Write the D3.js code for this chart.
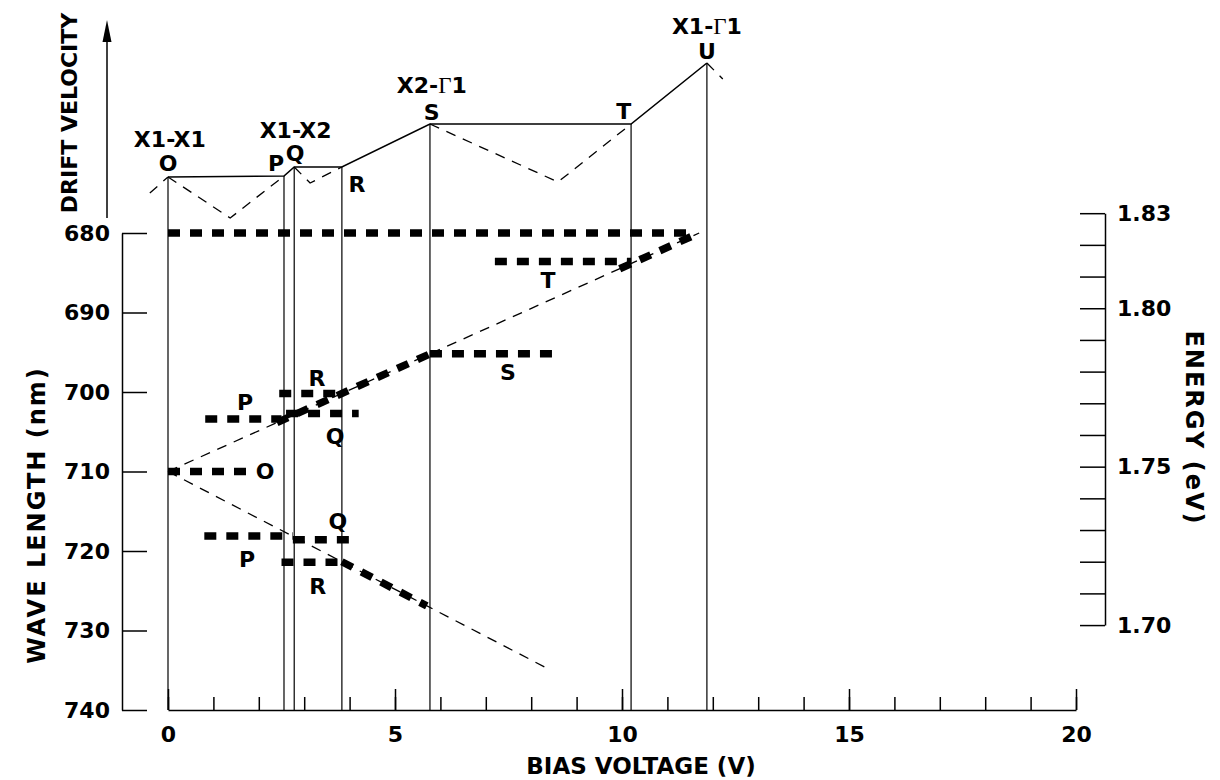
<!DOCTYPE html>
<html>
<head>
<meta charset="utf-8">
<script src="https://cdn.jsdelivr.net/npm/d3@7"></script>
<style>
  body { margin: 0; background: #fff; }
  svg text { font-family: "DejaVu Sans", sans-serif; font-weight: bold; fill: #000; }
  .axis path, .axis line { stroke: #000; stroke-width: 1.5; }
</style>
</head>
<body>
<svg id="chart" width="1220" height="780"></svg>
<script>
// transition points along the drift velocity curve
const transitions = ['O', 'P', 'Q', 'R', 'S', 'T', 'U'];
const transitionBias = [0, 2.555, 2.78, 3.83, 5.77, 10.2, 11.87];
const transitionDrift = [2.8, 2.85, 3.3, 3.3, 5.45, 5.45, 8.5];
const transitionLabelBias = [0, 2.38, 2.8, 4.16, 5.81, 10.04, 11.87];
const transitionLabelDrift = [3.5, 3.5, 4.0, 2.45, 6.05, 6.1, 9.1];

// valley branches of the drift velocity (dashed), [bias, drift]
const driftValleys = [
  [[-0.4, 2.0], [0, 2.8]],
  [[0, 2.8], [1.37, 0.75], [2.555, 2.85]],
  [[2.78, 3.3], [3.13, 2.5], [3.83, 3.3]],
  [[5.77, 5.45], [8.59, 2.55], [10.2, 5.45]],
  [[11.87, 8.5], [12.22, 7.7]]
];

// band labels
const bandNames = ['X1-X1', 'X1-X2', 'X2-Γ1', 'X1-Γ1'];
const bandBias = [0.04, 2.81, 5.81, 11.87];
const bandDrift = [4.7, 5.15, 7.4, 10.35];

// PL peak branches, [bias, wavelength]
const upperBranch = [[0, 710], [11.7, 680]];
const lowerBranch = [[0, 710], [8.3, 734.6]];
const upperBold = [[[2.4, 703.85], [5.77, 695.2]], [[9.95, 684.5], [11.7, 680]]];
const lowerBold = [[[3.83, 721.35], [5.7, 726.9]]];

// horizontal PL lines
const levelName = ['', 'O', 'P', 'Q', 'R', 'S', 'T', 'P', 'Q', 'R'];
const levelWave = [680, 710, 703.4, 702.7, 700.2, 695.2, 683.6, 718.1, 718.6, 721.4];
const levelFrom = [0, 0, 0.82, 2.6, 2.45, 5.77, 7.2, 0.8, 2.75, 2.5];
const levelTo = [11.45, 1.75, 2.5, 4.2, 3.83, 8.6, 10.2, 2.75, 4.1, 3.83];
const levelLabelBias = [null, 2.14, 1.7, 3.68, 3.28, 7.49, 8.37, 1.74, 3.74, 3.3];
const levelLabelWave = [null, 710, 701.3, 705.5, 698.2, 697.5, 685.9, 721.0, 716.2, 724.4];

// axis ticks
const waveTicks = [680, 690, 700, 710, 720, 730, 740];
const biasMinorTicks = d3.range(0, 21);
const biasMajorTicks = [0, 5, 10, 15, 20];
const energyTicks = d3.range(170, 184).map(v => v / 100);
const energyLabels = [170, 175, 180, 183];

const svg = d3.select('#chart');

const x = d3.scaleLinear().domain([0, 20]).range([168, 1076]);
const y = d3.scaleLinear().domain([680, 740]).range([233, 710]);
const dv = d3.scaleLinear().domain([0, 10]).range([233, 33]);
const eScale = d3.scaleLinear().domain([1.70, 1.83])
  .range([y(1239.84 / 1.70), y(1239.84 / 1.83)]);

const lineW = d3.line().x(d => x(d[0])).y(d => y(d[1]));
const lineD = d3.line().x(d => x(d[0])).y(d => dv(d[1]));

// Left axis: wavelength
svg.append('g')
  .attr('class', 'axis')
  .attr('transform', 'translate(122,0)')
  .call(d3.axisLeft(y).tickValues(waveTicks).tickSizeInner(-25).tickSizeOuter(0).tickPadding(12))
  .call(g => g.selectAll('text').style('font-size', '22px'));

// Bottom axis: bias voltage
svg.append('g')
  .attr('class', 'axis')
  .attr('transform', `translate(0,${y(740)})`)
  .call(d3.axisBottom(x).tickValues(biasMinorTicks).tickSizeInner(-13).tickSizeOuter(0).tickFormat(''));
svg.append('g')
  .attr('class', 'axis')
  .attr('transform', `translate(0,${y(740)})`)
  .call(d3.axisBottom(x).tickValues(biasMajorTicks).tickSizeInner(-21).tickSizeOuter(0).tickPadding(16))
  .call(g => g.select('.domain').remove())
  .call(g => g.selectAll('text').style('font-size', '22px'));

// Right axis: energy
svg.append('g')
  .attr('class', 'axis')
  .attr('transform', 'translate(1105,0)')
  .call(d3.axisRight(eScale).tickValues(energyTicks).tickSizeInner(-25).tickSizeOuter(0).tickPadding(12)
    .tickFormat(d => energyLabels.includes(Math.round(d * 100)) ? d3.format('.2f')(d) : ''))
  .call(g => g.selectAll('text').style('font-size', '22px'));

// Axis titles
svg.append('text')
  .attr('transform', 'translate(641,766)')
  .attr('text-anchor', 'middle').attr('dy', '0.36em')
  .style('font-size', '23px')
  .text('BIAS VOLTAGE (V)');

svg.append('text')
  .attr('transform', 'translate(36,515) rotate(-90)')
  .attr('text-anchor', 'middle').attr('dy', '0.36em')
  .style('font-size', '24px')
  .style('letter-spacing', '2px')
  .text('WAVE LENGTH (nm)');

svg.append('text')
  .attr('transform', 'translate(1195,428) rotate(90)')
  .attr('text-anchor', 'middle').attr('dy', '0.36em')
  .style('font-size', '24px')
  .style('letter-spacing', '2px')
  .text('ENERGY (eV)');

svg.append('text')
  .attr('transform', 'translate(69,113) rotate(-90)')
  .attr('text-anchor', 'middle').attr('dy', '0.36em')
  .style('font-size', '22px')
  .text('DRIFT VELOCITY');

// Drift velocity arrow
svg.append('line')
  .attr('x1', 107).attr('x2', 107)
  .attr('y1', 218).attr('y2', 32)
  .attr('stroke', '#000').attr('stroke-width', 1.5);
svg.append('path')
  .attr('d', 'M107,20 L102.5,42 L111.5,42 Z')
  .attr('fill', '#000');

// Vertical lines from drift curve down to bias axis
svg.append('g')
  .selectAll('line')
  .data(transitions)
  .join('line')
  .attr('x1', (d, i) => x(transitionBias[i]))
  .attr('x2', (d, i) => x(transitionBias[i]))
  .attr('y1', (d, i) => dv(transitionDrift[i]))
  .attr('y2', y(740))
  .attr('stroke', '#000')
  .attr('stroke-width', 1.2);

// Drift velocity curve (solid)
svg.append('path')
  .datum(transitionBias.map((b, i) => [b, transitionDrift[i]]))
  .attr('d', lineD)
  .attr('fill', 'none')
  .attr('stroke', '#000')
  .attr('stroke-width', 1.6);

// Drift velocity valleys (dashed)
svg.append('g')
  .selectAll('path')
  .data(driftValleys)
  .join('path')
  .attr('d', lineD)
  .attr('fill', 'none')
  .attr('stroke', '#000')
  .attr('stroke-width', 1.3)
  .attr('stroke-dasharray', '10,8');

// Transition labels on the drift curve
svg.append('g')
  .selectAll('text')
  .data(transitions)
  .join('text')
  .attr('x', (d, i) => x(transitionLabelBias[i]))
  .attr('y', (d, i) => dv(transitionLabelDrift[i]))
  .attr('text-anchor', 'middle').attr('dy', '0.36em')
  .style('font-size', '22px')
  .text(d => d);

// Band labels (Gamma in a serif face)
svg.append('g')
  .selectAll('text')
  .data(bandNames)
  .join('text')
  .attr('x', (d, i) => x(bandBias[i]))
  .attr('y', (d, i) => dv(bandDrift[i]))
  .attr('text-anchor', 'middle').attr('dy', '0.36em')
  .style('font-size', '22px')
  .each(function(d) {
    const t = d3.select(this);
    d.split(/(Γ)/).filter(Boolean).forEach(part => {
      const span = t.append('tspan').text(part);
      if (part === 'Γ') {
        span.style('font-family', '"Liberation Serif", serif').style('font-weight', 'normal').style('font-size', '23px');
      }
    });
  });

// Thin dashed branches
svg.append('g')
  .selectAll('path')
  .data([upperBranch, lowerBranch])
  .join('path')
  .attr('d', lineW)
  .attr('fill', 'none')
  .attr('stroke', '#000')
  .attr('stroke-width', 1.3)
  .attr('stroke-dasharray', '10,8');

// Bold dashed segments along branches
svg.append('g')
  .selectAll('path')
  .data(upperBold.concat(lowerBold))
  .join('path')
  .attr('d', lineW)
  .attr('fill', 'none')
  .attr('stroke', '#000')
  .attr('stroke-width', 7.5)
  .attr('stroke-dasharray', '12,10');

// Horizontal PL lines
svg.append('g')
  .selectAll('line')
  .data(levelWave)
  .join('line')
  .attr('x1', (d, i) => x(levelFrom[i]))
  .attr('x2', (d, i) => x(levelTo[i]))
  .attr('y1', d => y(d))
  .attr('y2', d => y(d))
  .attr('stroke', '#000')
  .attr('stroke-width', 7.5)
  .attr('stroke-dasharray', '12,10');

// PL line labels
svg.append('g')
  .selectAll('text')
  .data(levelName.filter(n => n))
  .join('text')
  .attr('x', (d, i) => x(levelLabelBias[i + 1]))
  .attr('y', (d, i) => y(levelLabelWave[i + 1]))
  .attr('text-anchor', 'middle').attr('dy', '0.36em')
  .style('font-size', '22px')
  .text(d => d);
</script>
</body>
</html>
